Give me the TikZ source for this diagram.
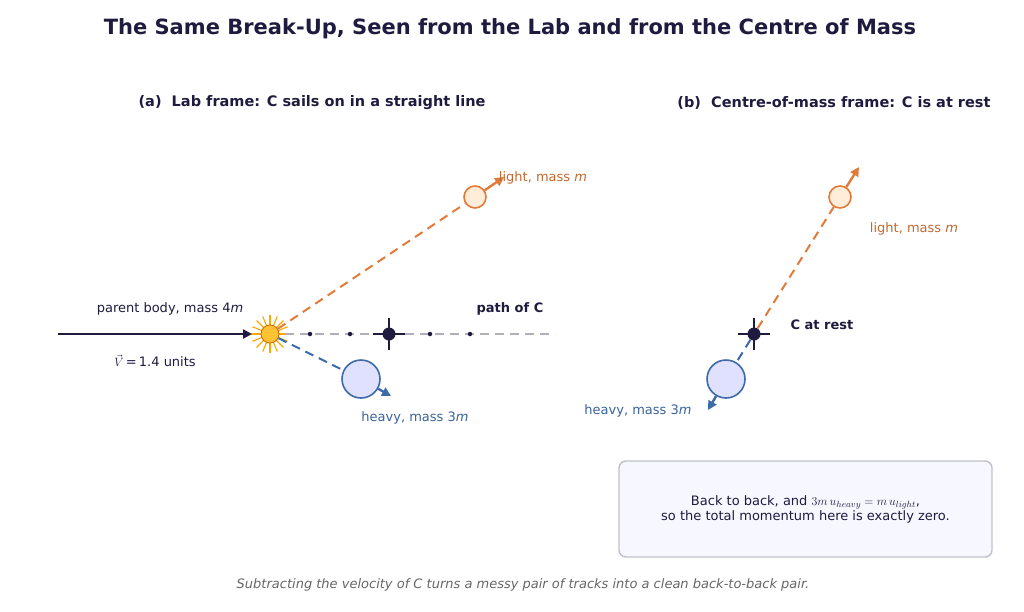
\documentclass[tikz,border=0pt]{standalone}
\usepackage{fontspec}
\setmainfont{DejaVu Sans}
\usetikzlibrary{arrows.meta,calc}
\definecolor{navy}{HTML}{1E1B3F}
\definecolor{org}{HTML}{E07B39}
\definecolor{orgt}{HTML}{C0682E}
\definecolor{blu}{HTML}{3D6AA8}
\definecolor{blut}{HTML}{3A629C}
\definecolor{gry}{HTML}{B0B0BC}
\begin{document}
\begin{tikzpicture}[x=1pt,y=-1pt,
  lbl/.style={font=\fontsize{13}{15}\selectfont},
  hdr/.style={font=\fontsize{14.5}{17}\selectfont\bfseries,text=navy},
  light/.style={circle,draw=org,fill=orange!15,line width=1.6pt,minimum size=22pt,inner sep=0},
  heavy/.style={circle,draw=blu,fill=blue!12,line width=1.6pt,minimum size=38pt,inner sep=0},
  cmdot/.style={circle,fill=navy,minimum size=13pt,inner sep=0},
  smd/.style={circle,fill=navy,minimum size=4.5pt,inner sep=0},
  odash/.style={draw=org,line width=2pt,dash pattern=on 9pt off 6pt},
  bdash/.style={draw=blu,line width=2pt,dash pattern=on 9pt off 6pt},
  tip/.style={-{Triangle[length=9pt,width=9pt]},line width=2.4pt}]
\useasboundingbox (0,0) rectangle (1024,611);
\node[font=\fontsize{21}{25}\selectfont\bfseries,text=navy] (title) at (510,29) {The Same Break-Up, Seen from the Lab and from the Centre of Mass};
\node[hdr] (ha) at (312,103) {(a)\ \ Lab frame: C sails on in a straight line};
\node[hdr] (hb) at (834,103) {(b)\ \ Centre-of-mass frame: C is at rest};
% left
\coordinate (s0) at (58,334);
\foreach \a in {0,22.5,...,359}{\draw[orange!70!yellow,line width=1.1pt] ($(270,334)+(\a:8)$) -- ($(270,334)+(\a:19)$);}
\node[circle,fill=orange!60!yellow!80,draw=orange!80!black,line width=0.8pt,minimum size=18pt,inner sep=0] (burst) at (270,334) {};
\draw[navy,tip] (s0) -- (252,334);
\node[lbl,text=navy] (pb) at (170,309) {parent body, mass 4\textit{m}};
\node[lbl,text=navy] (vv) at (155,361) {$\vec V$\,=\,1.4 units};
\coordinate (p0) at (285,334); \coordinate (p1) at (555,334);
\draw[gry,line width=1.6pt,dash pattern=on 9pt off 6pt] (p0) -- (p1);
\foreach \x in {310,350,430,470}{\node[smd] at (\x,334) {};}
\node[cmdot] (ca) at (389,334) {};
\draw[navy,line width=1.3pt] (373,334) -- (405,334) (389,318) -- (389,350);
\node[font=\fontsize{13}{15}\selectfont\bfseries,text=navy] (pc) at (510,309) {path of C};
\node[light] (la) at (475,197) {};
\draw[odash] (burst) -- (la);
\coordinate (lat) at (504,177);
\draw[org,tip] (la) -- (lat);
\node[lbl,text=orgt] (lla) at (543,178) {light, mass \textit{m}};
\node[heavy] (hva) at (361,379) {};
\draw[bdash] (burst) -- (hva);
\coordinate (hat) at (391,396);
\draw[blu,tip] (hva) -- (hat);
\node[lbl,text=blut] (lha) at (415,418) {heavy, mass 3\textit{m}};
% right
\node[cmdot] (cb) at (754,334) {};
\draw[navy,line width=1.3pt] (738,334) -- (770,334) (754,318) -- (754,350);
\node[font=\fontsize{13}{15}\selectfont\bfseries,text=navy] (cr) at (822,325) {C at rest};
\node[light] (lb) at (840,197) {};
\draw[odash] (cb) -- (lb);
\coordinate (lbt) at (859,167);
\draw[org,tip] (lb) -- (lbt);
\node[lbl,text=orgt] (llb) at (914,229) {light, mass \textit{m}};
\node[heavy] (hvb) at (726,379) {};
\draw[bdash] (cb) -- (hvb);
\coordinate (hbt) at (708,410);
\draw[blu,tip] (hvb) -- (hbt);
\node[lbl,text=blut] (lhb) at (638,411) {heavy, mass 3\textit{m}};
% box
\node[draw=gry!80,fill=blue!3,rounded corners=7pt,line width=1.4pt,minimum width=373pt,minimum height=96pt,align=center,lbl,text=navy] (box) at (805.5,509)
{Back to back, and $3m\,u_{heavy}=m\,u_{light}$,\\so the total momentum here is exactly zero.};
\node[lbl,font=\fontsize{13}{15}\selectfont\itshape,text=black!60] (ft) at (523,585) {Subtracting the velocity of C turns a messy pair of tracks into a clean back-to-back pair.};
\end{tikzpicture}
\end{document}
